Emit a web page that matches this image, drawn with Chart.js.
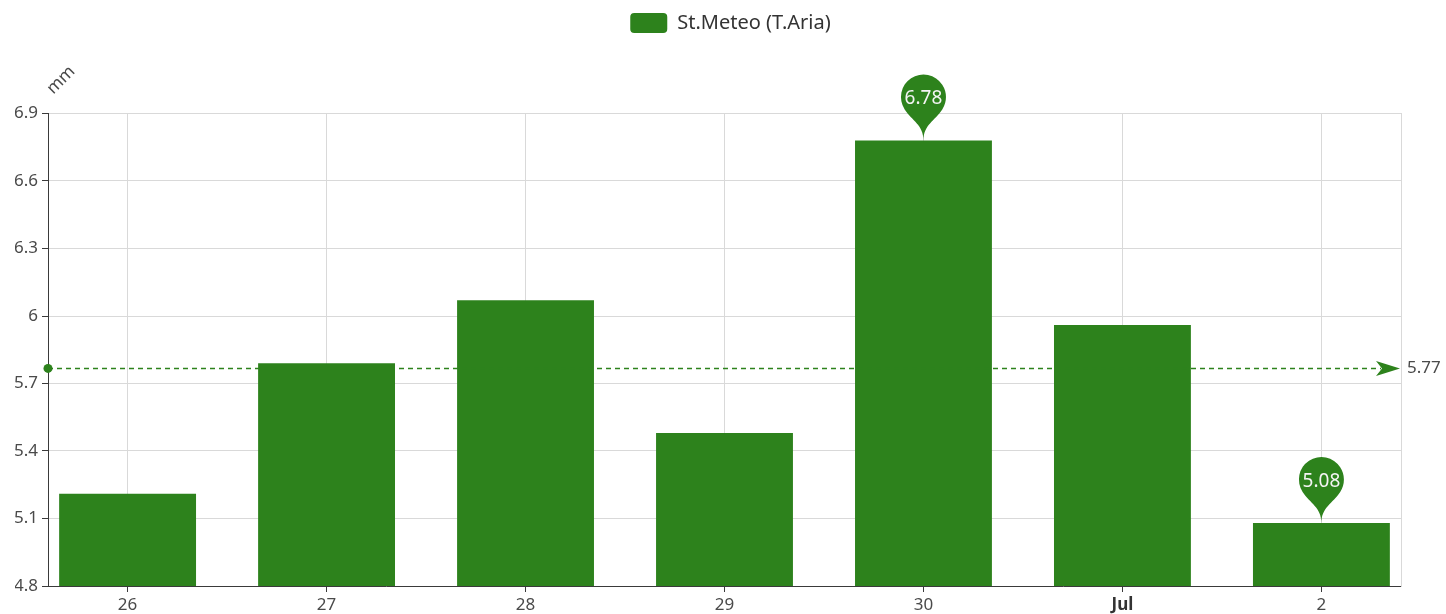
<!DOCTYPE html>
<html>
<head>
<meta charset="utf-8">
<script src="https://cdn.jsdelivr.net/npm/chart.js@4/dist/chart.umd.min.js"></script>
<style>
  html, body { margin: 0; padding: 0; background: #fff; }
  #wrap { width: 1446px; height: 614px; }
</style>
</head>
<body>
<div id="wrap"><canvas id="c" width="1446" height="614"></canvas></div>
<script>
// Daily values of the weather station series
const days = ['26', '27', '28', '29', '30', 'Jul', '2'];
const rain = [5.21, 5.79, 6.07, 5.48, 6.78, 5.96, 5.08];
const seriesName = 'St.Meteo (T.Aria)';
const unitLabel = 'mm';
const yMin = 4.8, yMax = 6.9, yStep = 0.3;

const GREEN = '#2d821c';
const FONT = '"Noto Sans", "Open Sans", sans-serif';
const AXIS = '#3a3a3a';
const GRID = '#d9d9d9';
const LABEL = '#4a4a4a';

Chart.defaults.font.family = FONT;

// Pin-shaped marker with its tip at (cx, tipY)
function drawPin(ctx, cx, tipY, r, d) {
  const cy = tipY - d;
  const a = Math.asin(0.55);
  const dx = Math.cos(a) * r, dy = Math.sin(a) * r;
  const cp = r * 0.6, cp2 = r * 0.7;
  ctx.beginPath();
  ctx.moveTo(cx - dx, cy + dy);
  ctx.arc(cx, cy, r, Math.PI - a, Math.PI * 2 + a);
  ctx.bezierCurveTo(cx + dx - Math.sin(a) * cp, cy + dy + Math.cos(a) * cp, cx, tipY - cp2, cx, tipY);
  ctx.bezierCurveTo(cx, tipY - cp2, cx - dx + Math.sin(a) * cp, cy + dy + Math.cos(a) * cp, cx - dx, cy + dy);
  ctx.closePath();
  ctx.fill();
  return cy;
}

// Average line, max/min pins and unit label
const markers = {
  id: 'markers',
  afterDatasetsDraw(chart) {
    const { ctx, chartArea: a, scales: { x, y } } = chart;
    const avg = rain.reduce((s, v) => s + v, 0) / rain.length;
    const ay = y.getPixelForValue(avg);

    ctx.save();
    ctx.strokeStyle = GREEN;
    ctx.fillStyle = GREEN;
    ctx.lineWidth = 1.5;
    ctx.setLineDash([5, 4]);
    ctx.beginPath();
    ctx.moveTo(a.left, ay);
    ctx.lineTo(a.right - 20, ay);
    ctx.stroke();
    ctx.setLineDash([]);

    ctx.beginPath();
    ctx.arc(a.left, ay, 4.5, 0, Math.PI * 2);
    ctx.fill();

    const tx = a.right - 1;
    ctx.beginPath();
    ctx.moveTo(tx, ay);
    ctx.lineTo(tx - 24, ay - 7.5);
    ctx.lineTo(tx - 18, ay);
    ctx.lineTo(tx - 24, ay + 7.5);
    ctx.closePath();
    ctx.fill();

    ctx.fillStyle = LABEL;
    ctx.font = '17px ' + FONT;
    ctx.textAlign = 'left';
    ctx.textBaseline = 'middle';
    ctx.fillText(avg.toFixed(2), a.right + 6, ay);

    const iMax = rain.indexOf(Math.max(...rain));
    const iMin = rain.indexOf(Math.min(...rain));
    [iMax, iMin].forEach(i => {
      const px = x.getPixelForValue(i);
      const py = y.getPixelForValue(rain[i]);
      ctx.fillStyle = GREEN;
      const cy = drawPin(ctx, px, py, 22.5, 43.5);
      ctx.fillStyle = '#f4f4f4';
      ctx.font = '19px ' + FONT;
      ctx.textAlign = 'center';
      ctx.textBaseline = 'middle';
      ctx.fillText(rain[i].toFixed(2), px, cy + 2);
    });

    ctx.translate(a.left + 13, a.top - 33.5);
    ctx.rotate(-Math.PI / 4);
    ctx.fillStyle = LABEL;
    ctx.font = '17px ' + FONT;
    ctx.textAlign = 'center';
    ctx.textBaseline = 'middle';
    ctx.fillText(unitLabel, 0, 0);
    ctx.restore();
  }
};

const isJul = c => c.tick && days[c.tick.value] === 'Jul';

new Chart(document.getElementById('c'), {
  type: 'bar',
  data: {
    datasets: [{
      label: seriesName,
      data: rain.map((v, i) => ({ x: i, y: v })),
      backgroundColor: GREEN,
      borderWidth: 0,
      categoryPercentage: 1,
      barPercentage: 0.688
    }]
  },
  options: {
    responsive: false,
    animation: false,
    events: [],
    layout: { padding: { top: 3, left: 15, right: 0, bottom: 0 } },
    plugins: {
      tooltip: { enabled: false },
      legend: {
        position: 'top',
        labels: {
          boxWidth: 37,
          boxHeight: 20,
          useBorderRadius: true,
          borderRadius: 4,
          color: '#333',
          padding: 10,
          font: { size: 20 }
        }
      },
      subtitle: {
        display: true,
        text: '',
        weight: 500,
        font: { size: 10, lineHeight: 1 },
        padding: { top: 60.5, bottom: 0 }
      }
    },
    scales: {
      x: {
        type: 'linear',
        min: -0.4,
        max: 6.4,
        offset: false,
        grid: { color: GRID, tickColor: AXIS, tickLength: 6, offset: false },
        border: { color: AXIS, width: 1 },
        ticks: {
          stepSize: 1,
          includeBounds: false,
          autoSkip: false,
          maxRotation: 0,
          padding: 3,
          color: c => isJul(c) ? '#333' : LABEL,
          font: c => ({ size: 17, weight: isJul(c) ? 'bold' : 'normal' }),
          callback: v => days[v] ?? ''
        },
        afterFit: s => { s.height = 28; }
      },
      y: {
        min: yMin,
        max: yMax,
        grid: { color: GRID, tickColor: AXIS, tickLength: 6 },
        border: { color: AXIS, width: 1 },
        ticks: {
          stepSize: yStep,
          padding: 4,
          color: LABEL,
          font: { size: 17 },
          callback: v => String(+Number(v).toFixed(1))
        },
        afterFit: s => { s.width = 33; }
      },
      y2: {
        position: 'right',
        min: yMin,
        max: yMax,
        grid: { display: false },
        ticks: { display: false },
        border: { color: GRID, width: 1 },
        afterFit: s => { s.width = 45; }
      }
    }
  },
  plugins: [markers]
});
</script>
</body>
</html>
